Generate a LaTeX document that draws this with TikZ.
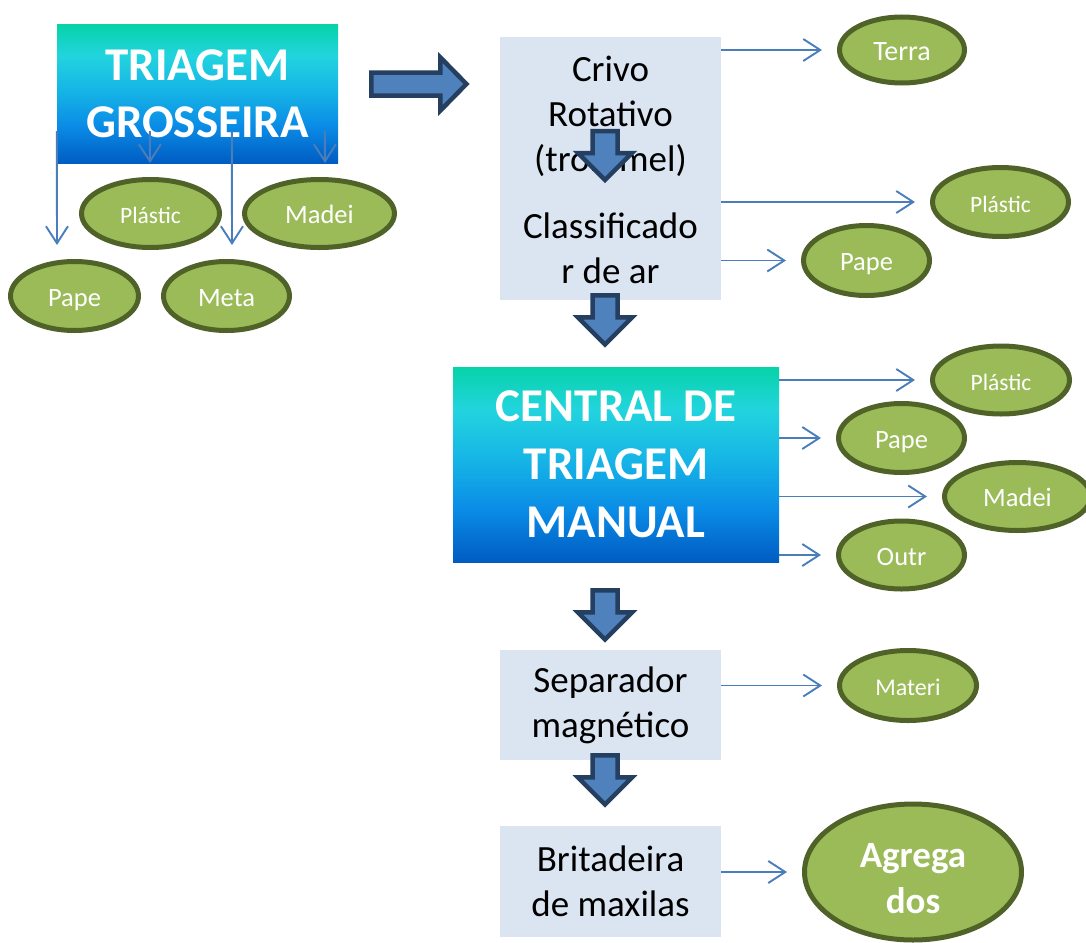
\documentclass[tikz,border=0pt]{standalone}
\usepackage{fontspec}
\setmainfont{Carlito}
\usetikzlibrary{arrows.meta,calc,shapes.geometric}
\definecolor{thinblue}{HTML}{4A7EBB}
\definecolor{fatfill}{HTML}{4F81BD}
\definecolor{fatline}{HTML}{243F60}
\definecolor{boxfill}{HTML}{DBE5F1}
\definecolor{ellfill}{HTML}{9BBB59}
\definecolor{ellline}{HTML}{4F6228}
\definecolor{gA}{HTML}{005CC2}
\definecolor{gB}{HTML}{0A8CE6}
\definecolor{gC}{HTML}{16B4E6}
\definecolor{gD}{HTML}{22D4DE}
\definecolor{gE}{HTML}{07D3A9}
\pgfdeclareverticalshading{tealblue}{100bp}{color(0bp)=(gA); color(25bp)=(gA); color(38.5bp)=(gB); color(51bp)=(gC); color(64bp)=(gD); color(75bp)=(gE); color(100bp)=(gE)}
\tikzset{
  gradbox/.style={rectangle, shade, shading=tealblue, inner sep=0pt, text=white, align=center,
    font=\bfseries\fontsize{47}{57}\selectfont},
  procbox/.style={rectangle, fill=boxfill, inner sep=0pt, align=center, text=black,
    font=\fontsize{37}{45}\selectfont},
  blob/.style={ellipse, draw=ellline, fill=ellfill, line width=5pt, inner sep=0pt, text=white,
    font=\fontsize{26.5}{30}\selectfont},
  oneline/.style={text height=20pt, text depth=0pt},
  smalltxt/.style={font=\fontsize{23.5}{28}\selectfont},
  thinarrow/.style={draw=thinblue, line width=1.9pt, -{Straight Barb[length=17pt,width=22pt]}, shorten >=15pt},
  tgarrow/.style={draw=thinblue, line width=1.9pt, -{Straight Barb[length=17pt,width=22pt]}},
  fatarrow/.style={fill=fatfill, draw=fatline, line width=4.5pt, line join=miter},
  fatdown/.pic={\draw[fatarrow] (-12.5,0) -- (12.5,0) -- (12.5,22) -- (27,22) -- (0,49) -- (-27,22) -- (-12.5,22) -- cycle;},
  fatright/.pic={\draw[fatarrow] (0,-11.5) -- (69,-11.5) -- (69,-26.5) -- (95,0) -- (69,26.5) -- (69,11.5) -- (0,11.5) -- cycle;}
}
\begin{document}
\begin{tikzpicture}[x=1pt,y=-1pt]
\useasboundingbox (0,0) rectangle (1086,942);

% main boxes
\node[gradbox, minimum width=281pt, minimum height=138pt] (tg) at (197.5,94) {TRIAGEM\\GROSSEIRA};
\node[procbox, minimum width=221pt, minimum height=159pt] (crivo) at (610.5,116.5) {Crivo\\Rotativo\\(trommel)};
\node[procbox, minimum width=221pt, minimum height=104pt] (classif) at (610.5,248) {Classificado\\r de ar};
\node[gradbox, minimum width=326pt, minimum height=195pt, font=\bfseries\fontsize{47}{58}\selectfont] (central) at (616,464.5) {CENTRAL DE\\TRIAGEM\\MANUAL};
\node[procbox, minimum width=221pt, minimum height=110pt] (sep) at (610.5,705) {Separador\\magnético};
\node[procbox, minimum width=221pt, minimum height=111pt] (brit) at (610.5,881.5) {Britadeira\\de maxilas};

% ellipses left
\node[blob, oneline, smalltxt, minimum width=138pt, minimum height=68pt] (plA) at (150.5,213.5) {Plástic};
\node[blob, oneline, minimum width=150pt, minimum height=68pt] (mdA) at (319.5,213.5) {Madei};
\node[blob, oneline, minimum width=128pt, minimum height=69pt] (ppA) at (74.5,296) {Pape};
\node[blob, oneline, minimum width=126pt, minimum height=69pt] (mtA) at (226.5,296) {Meta};

% ellipses right
\node[blob, oneline, font=\fontsize{28}{32}\selectfont, minimum width=125pt, minimum height=66pt] (terra) at (902,50) {Terra};
\node[blob, oneline, smalltxt, minimum width=136pt, minimum height=69pt] (plB) at (1000.5,202) {Plástic};
\node[blob, oneline, minimum width=126pt, minimum height=70pt] (ppB) at (866.5,260.5) {Pape};
\node[blob, oneline, smalltxt, minimum width=137pt, minimum height=68pt] (plC) at (1001,380) {Plástic};
\node[blob, oneline, minimum width=126pt, minimum height=69pt] (ppC) at (901.5,438) {Pape};
\node[blob, oneline, minimum width=146pt, minimum height=68pt] (mdC) at (1017.5,496.5) {Madei};
\node[blob, oneline, minimum width=126pt, minimum height=68pt] (outr) at (901.5,555) {Outr};
\node[blob, oneline, font=\fontsize{24}{28}\selectfont, minimum width=137pt, minimum height=70pt] (materi) at (908,685.5) {Materi};
\node[blob, font=\bfseries\fontsize{37}{46}\selectfont, align=center, minimum width=217pt, minimum height=136pt] (agreg) at (913,872) {\rule{0pt}{38pt}Agrega\\dos};

% fat arrows
\pic at ($(tg.east)+(33.25,-10)$) {fatright};
\pic at ($(crivo.north)+(-5.5,94.25)$) {fatdown};
\pic at ($(classif.south)+(-5.5,-4.75)$) {fatdown};
\pic at ($(central.south)+(-11,28.25)$) {fatdown};
\pic at ($(sep.south)+(-5.5,-4.75)$) {fatdown};

% thin arrows from TRIAGEM GROSSEIRA
\coordinate (e1) at (57,245);
\coordinate (e2) at (150,163);
\coordinate (e3) at (232,245);
\coordinate (e4) at (325,163);
\draw[tgarrow] ($(tg.south west)+(0,-32)$) -- (e1);
\draw[tgarrow] ($(tg.south west)+(93,-32)$) -- (e2);
\draw[tgarrow] ($(tg.south west)+(175,-32)$) -- (e3);
\draw[tgarrow] ($(tg.south west)+(268,-32)$) -- (e4);

% thin arrows right
\draw[thinarrow] (crivo.east |- terra) -- (terra);
\draw[thinarrow] (classif.east |- plB) -- (plB);
\draw[thinarrow] (classif.east |- ppB) -- (ppB);
\draw[thinarrow] (central.east |- plC) -- (plC);
\draw[thinarrow] (central.east |- ppC) -- (ppC);
\draw[thinarrow] (central.east |- mdC) -- (mdC);
\draw[thinarrow] (central.east |- outr) -- (outr);
\draw[thinarrow] (sep.east |- materi) -- (materi);
\draw[thinarrow] (brit.east |- agreg) -- (agreg);
\end{tikzpicture}
\end{document}
